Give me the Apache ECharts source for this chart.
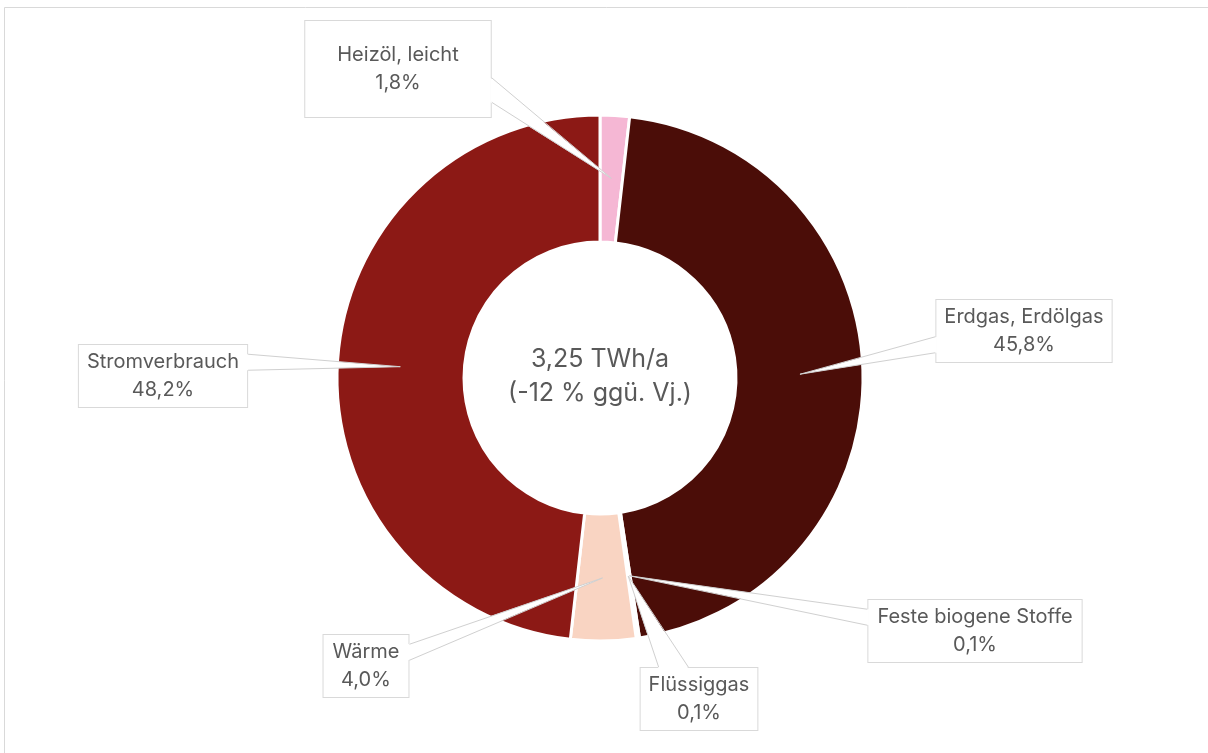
<!DOCTYPE html>
<html>
<head>
<meta charset="utf-8">
<script src="https://cdn.jsdelivr.net/npm/echarts@6/dist/echarts.min.js"></script>
<style>
  html, body { margin: 0; padding: 0; background: #fff; }
  #chart { width: 1208px; height: 753px; }
</style>
</head>
<body>
<div id="chart"></div>
<script>
// Daten
var categories = ["Heizöl, leicht", "Erdgas, Erdölgas", "Feste biogene Stoffe", "Flüssiggas", "Wärme", "Stromverbrauch"];
var shares = [1.8, 45.8, 0.1, 0.1, 4.0, 48.2];
var colors = ["#F5B7D4", "#4B0D08", "#B22222", "#D9534F", "#F9D4C2", "#8C1915"];
var centerLines = ["3,25 TWh/a", "(-12 % ggü. Vj.)"];

// Lage der Beschriftungen (Mittelpunkt der Box)
var labelPos = [[398, 69], [1024, 331], [975, 631], [699, 699], [366, 666], [163, 376]];
var labelPad = [[22, 32, 18, 32], [5, 8, 1, 8], [5, 9, 1, 9], [5, 8, 1, 8], [5, 9, 1, 9], [5, 8, 1, 8]];

var cx = 600, cy = 378, rIn = 136, rOut = 263, rTip = 200;
var labelSize = [];

var myChart = echarts.init(document.getElementById("chart"));

var pieData = categories.map(function (name, i) {
    return {
        name: name,
        value: shares[i],
        itemStyle: { color: colors[i] },
        label: { padding: labelPad[i] }
    };
});

var option = {
    animation: false,
    backgroundColor: "#fff",
    graphic: [{
        id: "frame",
        type: "rect",
        shape: { x: 4.5, y: 7.5, width: 1300, height: 900 },
        style: { fill: "none", stroke: "#d9d9d9", lineWidth: 1 },
        silent: true
    }, {
        id: "centerText",
        type: "text",
        x: cx,
        y: cy - 2,
        style: {
            text: centerLines.join("\n"),
            fill: "#595959",
            font: "25px Inter",
            lineHeight: 34,
            align: "center",
            verticalAlign: "middle"
        }
    }],
    series: [{
        type: "pie",
        center: [cx, cy],
        radius: [rIn, rOut],
        startAngle: 90,
        clockwise: true,
        avoidLabelOverlap: false,
        itemStyle: { borderColor: "#fff", borderWidth: 3 },
        label: {
            show: true,
            position: "outside",
            formatter: function (p) {
                return p.name + "\n" + p.value.toFixed(1).replace(".", ",") + "%";
            },
            color: "#595959",
            fontFamily: "Inter",
            fontSize: 20,
            lineHeight: 28,
            align: "center",
            backgroundColor: "#fff",
            borderColor: "#d9d9d9",
            borderWidth: 1
        },
        labelLine: { show: false },
        labelLayout: function (params) {
            var i = params.dataIndex;
            labelSize[i] = [params.labelRect.width, params.labelRect.height];
            return {
                x: labelPos[i][0],
                y: labelPos[i][1],
                align: "center",
                verticalAlign: "middle"
            };
        },
        data: pieData
    }]
};

myChart.setOption(option);

// Sprechblasen-Keile vom Ring zur Box
function wedge(i) {
    var lay = myChart.getModel().getSeriesByIndex(0).getData().getItemLayout(i);
    var mid = (lay.startAngle + lay.endAngle) / 2;
    var tx = lay.cx + rTip * Math.cos(mid);
    var ty = lay.cy + rTip * Math.sin(mid);
    var bx = labelPos[i][0], by = labelPos[i][1];
    var hw = labelSize[i][0] / 2, hh = labelSize[i][1] / 2;
    var dx = tx - bx, dy = ty - by;
    var f, a, b, a2, b2;
    if (Math.abs(dx) / hw > Math.abs(dy) / hh) {
        var sx = bx + (dx > 0 ? hw : -hw);
        f = dy > 0 ? [0.59, 0.84] : [0.16, 0.41];
        var y1 = by - hh + f[0] * 2 * hh, y2 = by - hh + f[1] * 2 * hh;
        var inX = dx > 0 ? -1.5 : 1.5;
        a = [sx, y1]; b = [sx, y2];
        a2 = [sx + inX, y1]; b2 = [sx + inX, y2];
    } else {
        var sy = by + (dy > 0 ? hh : -hh);
        f = dx > 0 ? [0.59, 0.84] : [0.16, 0.41];
        var x1 = bx - hw + f[0] * 2 * hw, x2 = bx - hw + f[1] * 2 * hw;
        var inY = dy > 0 ? -1.5 : 1.5;
        a = [x1, sy]; b = [x2, sy];
        a2 = [x1, sy + inY]; b2 = [x2, sy + inY];
    }
    return [{
        type: "polygon",
        z: 100,
        silent: true,
        shape: { points: [a2, [tx, ty], b2] },
        style: { fill: "#fff", stroke: null }
    }, {
        type: "polyline",
        z: 101,
        silent: true,
        shape: { points: [a, [tx, ty], b] },
        style: { fill: null, stroke: "#d0d0d0", lineWidth: 1 }
    }];
}

var wedges = [];
for (var i = 0; i < categories.length; i++) {
    wedges = wedges.concat(wedge(i));
}
myChart.setOption({ graphic: option.graphic.concat(wedges) });
</script>
</body>
</html>
